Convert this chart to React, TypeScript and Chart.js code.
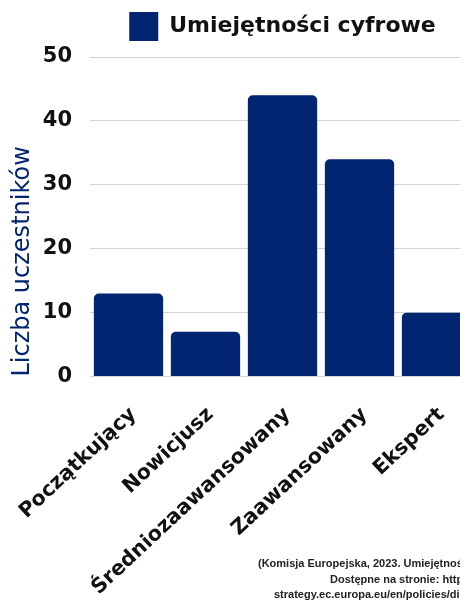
import React, { useEffect, useRef } from "react";
import { Chart, registerables } from "chart.js";

Chart.register(...registerables);

const categories = ["Początkujący", "Nowicjusz", "Średniozaawansowany", "Zaawansowany", "Ekspert"];
const seriesLabel = "Umiejętności cyfrowe";
const values = [13, 7, 44, 34, 10];
const yTicks = [0, 10, 20, 30, 40, 50];
const yTitle = "Liczba uczestników";
const sourceLines = [
  "(Komisja Europejska, 2023. Umiejętności cyfrowe.",
  "Dostępne na stronie: https://digital-",
  "strategy.ec.europa.eu/en/policies/digital-skills)",
];

const NAVY = "#012570";
const FONT = "'DejaVu Sans', sans-serif";

const legendSpacer = {
  id: "legendSpacer",
  beforeLayout(chart: any) {
    const lg = chart.legend;
    if (lg && !lg._spaced) {
      const orig = lg.fit;
      lg.fit = function () {
        orig.call(this);
        this.height += 6;
      };
      lg._spaced = true;
    }
  },
};

export default function App() {
  const ref = useRef<HTMLCanvasElement | null>(null);

  useEffect(() => {
    if (!ref.current) return;
    const chart = new Chart(ref.current, {
      type: "bar",
      data: {
        labels: categories,
        datasets: [
          {
            label: seriesLabel,
            data: values,
            backgroundColor: NAVY,
            borderWidth: 0,
            borderRadius: 5,
            barPercentage: 0.9,
            categoryPercentage: 1,
          },
        ],
      },
      plugins: [legendSpacer],
      options: {
        responsive: false,
        animation: false,
        layout: { padding: 0 },
        plugins: {
          legend: {
            position: "top",
            fullSize: false,
            labels: {
              boxWidth: 29,
              boxHeight: 29,
              padding: 4,
              color: "#111",
              font: { family: FONT, size: 22, weight: "bold" },
            },
          },
          tooltip: { enabled: false },
        },
        scales: {
          x: {
            grid: { display: false },
            border: { display: false },
            afterFit: (scale: any) => {
              scale.paddingLeft = 0;
              scale.paddingRight = 0;
            },
            ticks: {
              color: "#111",
              font: { family: FONT, size: 20.5, weight: "bold" },
              minRotation: 43,
              maxRotation: 43,
              autoSkip: false,
              padding: 18,
              labelOffset: 5,
            },
          },
          y: {
            min: yTicks[0],
            max: yTicks[yTicks.length - 1],
            afterBuildTicks: (scale: any) => {
              scale.ticks = yTicks.map((v) => ({ value: v }));
            },
            afterFit: (scale: any) => {
              scale.width = 82;
            },
            grid: { color: "#d3d3d3", lineWidth: 1, drawTicks: false },
            border: { display: false },
            ticks: {
              color: "#111",
              padding: 18,
              font: { family: FONT, size: 21, weight: "bold" },
            },
            title: {
              display: true,
              text: yTitle,
              align: "start",
              color: NAVY,
              padding: { top: 0, bottom: 6 },
              font: { family: FONT, size: 24, weight: "normal" },
            },
          },
        },
      },
    });
    return () => chart.destroy();
  }, []);

  const lineLefts = [250, 322, 266];
  const lineTops = [548, 564, 579];

  return (
    <div style={{ position: "relative", width: 460, height: 592, overflow: "hidden", background: "#fff" }}>
      <canvas ref={ref} width={467} height={610} style={{ position: "absolute", left: 0, top: 0 }} />
      {sourceLines.map((t, i) => (
        <div
          key={i}
          style={{
            position: "absolute",
            left: lineLefts[i],
            top: lineTops[i],
            whiteSpace: "nowrap",
            fontFamily: "'Liberation Sans', Arial, sans-serif",
            fontWeight: "bold",
            fontSize: 11,
            lineHeight: "14px",
            color: "#222",
          }}
        >
          {t}
        </div>
      ))}
    </div>
  );
}
